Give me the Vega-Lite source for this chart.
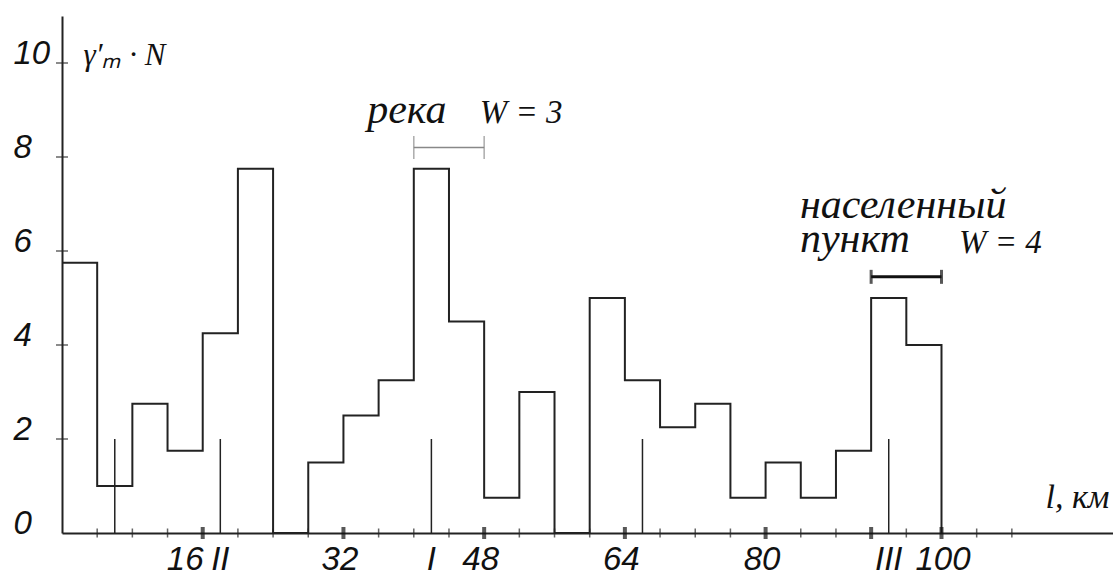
{
  "$schema": "https://vega.github.io/schema/vega-lite/v6.json",
  "autosize": {"type": "none"},
  "padding": {"left": 62, "top": 16, "right": 0, "bottom": 38},
  "width": 1051,
  "height": 517,
  "background": "white",
  "config": {"view": {"stroke": null}},
  "datasets": {
    "hist": [
      {"km": 0, "v": 5.75}, {"km": 4, "v": 1}, {"km": 8, "v": 2.75}, {"km": 12, "v": 1.75},
      {"km": 16, "v": 4.25}, {"km": 20, "v": 7.75}, {"km": 24, "v": 0}, {"km": 28, "v": 1.5},
      {"km": 32, "v": 2.5}, {"km": 36, "v": 3.25}, {"km": 40, "v": 7.75}, {"km": 44, "v": 4.5},
      {"km": 48, "v": 0.75}, {"km": 52, "v": 3}, {"km": 56, "v": 0}, {"km": 60, "v": 5},
      {"km": 64, "v": 3.25}, {"km": 68, "v": 2.25}, {"km": 72, "v": 2.75}, {"km": 76, "v": 0.75},
      {"km": 80, "v": 1.5}, {"km": 84, "v": 0.75}, {"km": 88, "v": 1.75}, {"km": 92, "v": 5},
      {"km": 96, "v": 4}, {"km": 100, "v": 0}
    ],
    "markers": [
      {"km": 6, "v": 2, "t": ""}, {"km": 18, "v": 2, "t": "II"}, {"km": 42, "v": 2, "t": "I"},
      {"km": 66, "v": 2, "t": ""}, {"km": 94, "v": 2, "t": "III"}
    ],
    "minorTicks": [
      {"km": 4}, {"km": 8}, {"km": 12}, {"km": 20}, {"km": 24}, {"km": 28}, {"km": 36},
      {"km": 40}, {"km": 44}, {"km": 52}, {"km": 56}, {"km": 60}, {"km": 68}, {"km": 72},
      {"km": 76}, {"km": 84}, {"km": 88}, {"km": 96}, {"km": 104}, {"km": 108}
    ],
    "majorTicks": [
      {"km": 16}, {"km": 32}, {"km": 48}, {"km": 64}, {"km": 80}, {"km": 92}, {"km": 100}
    ],
    "yTicks": [{"v": 2}, {"v": 4}, {"v": 6}, {"v": 8}, {"v": 10}],
    "river": [{"km": 40, "km2": 48, "v": 8.2}],
    "settlement": [{"km": 92, "km2": 100, "v": 5.45}],
    "words": [
      {"km": 34.7, "v": 8.72, "t": "река"},
      {"km": 83.9, "v": 6.7, "t": "населенный"},
      {"km": 83.9, "v": 5.98, "t": "пункт"}
    ],
    "widths": [
      {"km": 47.5, "v": 8.72, "t": "W = 3"},
      {"km": 102, "v": 5.95, "t": "W = 4"}
    ]
  },
  "layer": [
    {
      "data": {"name": "hist"},
      "mark": {"type": "line", "interpolate": "step-after", "color": "#222", "strokeWidth": 2},
      "encoding": {
        "x": {
          "field": "km", "type": "quantitative",
          "scale": {"domain": [0, 119.5], "nice": false, "zero": false},
          "axis": {
            "values": [16, 32, 48, 64, 80, 100],
            "ticks": false, "grid": false,
            "domainColor": "#222", "domainWidth": 2,
            "labelFont": "Liberation Sans", "labelFontStyle": "italic", "labelFontSize": 33,
            "labelColor": "#111", "labelBaseline": "alphabetic", "labelPadding": 36,
            "labelFlush": false, "labelOverlap": false,
            "labelOffset": {"condition": [
              {"test": "datum.value == 16", "value": -18},
              {"test": "datum.value == 100", "value": 1}
            ], "value": -4},
            "title": "l, км",
            "titleFont": "Liberation Serif", "titleFontStyle": "italic", "titleFontWeight": "normal",
            "titleFontSize": 34, "titleColor": "#111",
            "titleX": 983, "titleY": -26, "titleAlign": "left", "titleBaseline": "alphabetic", "titleAnchor": "start"
          }
        },
        "y": {
          "field": "v", "type": "quantitative",
          "scale": {"domain": [0, 11], "nice": false},
          "axis": {
            "values": [0, 2, 4, 6, 8, 10],
            "ticks": false, "grid": false,
            "domainColor": "#222", "domainWidth": 2,
            "labelFont": "Liberation Sans", "labelFontStyle": "italic", "labelFontSize": 33,
            "labelColor": "#111", "labelBaseline": "alphabetic", "labelAlign": "left", "labelPadding": 49,
            "labelFlush": false, "labelOverlap": false,
            "title": "γ′ₘ · N",
            "titleFont": "Liberation Serif", "titleFontStyle": "italic", "titleFontWeight": "normal",
            "titleFontSize": 31, "titleColor": "#111", "titleAngle": 0,
            "titleX": 21, "titleY": 48, "titleAlign": "left", "titleBaseline": "alphabetic"
          }
        }
      }
    },
    {
      "data": {"name": "markers"},
      "mark": {"type": "rule", "color": "#222", "strokeWidth": 1.5},
      "encoding": {
        "x": {"field": "km", "type": "quantitative"},
        "y": {"field": "v", "type": "quantitative"},
        "y2": {"datum": 0}
      }
    },
    {
      "data": {"name": "markers"},
      "mark": {"type": "text", "font": "Liberation Sans", "fontStyle": "italic", "fontSize": 33, "color": "#111", "align": "center", "baseline": "alphabetic", "dy": 37},
      "encoding": {
        "x": {"field": "km", "type": "quantitative"},
        "y": {"datum": 0},
        "text": {"field": "t"}
      }
    },
    {
      "data": {"name": "minorTicks"},
      "mark": {"type": "tick", "orient": "vertical", "color": "#222", "size": 9, "thickness": 1.5},
      "encoding": {
        "x": {"field": "km", "type": "quantitative"},
        "y": {"datum": 0}
      }
    },
    {
      "data": {"name": "majorTicks"},
      "mark": {"type": "tick", "orient": "vertical", "color": "#111", "size": 12, "thickness": 4},
      "encoding": {
        "x": {"field": "km", "type": "quantitative"},
        "y": {"datum": 0}
      }
    },
    {
      "data": {"name": "yTicks"},
      "mark": {"type": "tick", "orient": "horizontal", "color": "#222", "size": 12, "thickness": 1.5},
      "encoding": {
        "x": {"datum": 0},
        "y": {"field": "v", "type": "quantitative"}
      }
    },
    {
      "data": {"name": "river"},
      "mark": {"type": "rule", "color": "#888", "strokeWidth": 1.5},
      "encoding": {
        "x": {"field": "km", "type": "quantitative"},
        "x2": {"field": "km2"},
        "y": {"field": "v", "type": "quantitative"}
      }
    },
    {
      "data": {"name": "river"},
      "transform": [{"fold": ["km", "km2"], "as": ["end", "pos"]}],
      "mark": {"type": "tick", "orient": "vertical", "color": "#888", "size": 23, "thickness": 1.5},
      "encoding": {
        "x": {"field": "pos", "type": "quantitative"},
        "y": {"field": "v", "type": "quantitative"}
      }
    },
    {
      "data": {"name": "settlement"},
      "mark": {"type": "rule", "color": "#111", "strokeWidth": 3},
      "encoding": {
        "x": {"field": "km", "type": "quantitative"},
        "x2": {"field": "km2"},
        "y": {"field": "v", "type": "quantitative"}
      }
    },
    {
      "data": {"name": "settlement"},
      "transform": [{"fold": ["km", "km2"], "as": ["end", "pos"]}],
      "mark": {"type": "tick", "orient": "vertical", "color": "#111", "size": 14, "thickness": 3},
      "encoding": {
        "x": {"field": "pos", "type": "quantitative"},
        "y": {"field": "v", "type": "quantitative"}
      }
    },
    {
      "data": {"name": "words"},
      "mark": {"type": "text", "font": "Liberation Serif", "fontStyle": "italic", "fontSize": 42, "color": "#111", "align": "left", "baseline": "alphabetic"},
      "encoding": {
        "x": {"field": "km", "type": "quantitative"},
        "y": {"field": "v", "type": "quantitative"},
        "text": {"field": "t"}
      }
    },
    {
      "data": {"name": "widths"},
      "mark": {"type": "text", "font": "Liberation Serif", "fontStyle": "italic", "fontSize": 33, "color": "#111", "align": "left", "baseline": "alphabetic"},
      "encoding": {
        "x": {"field": "km", "type": "quantitative"},
        "y": {"field": "v", "type": "quantitative"},
        "text": {"field": "t"}
      }
    }
  ]
}
